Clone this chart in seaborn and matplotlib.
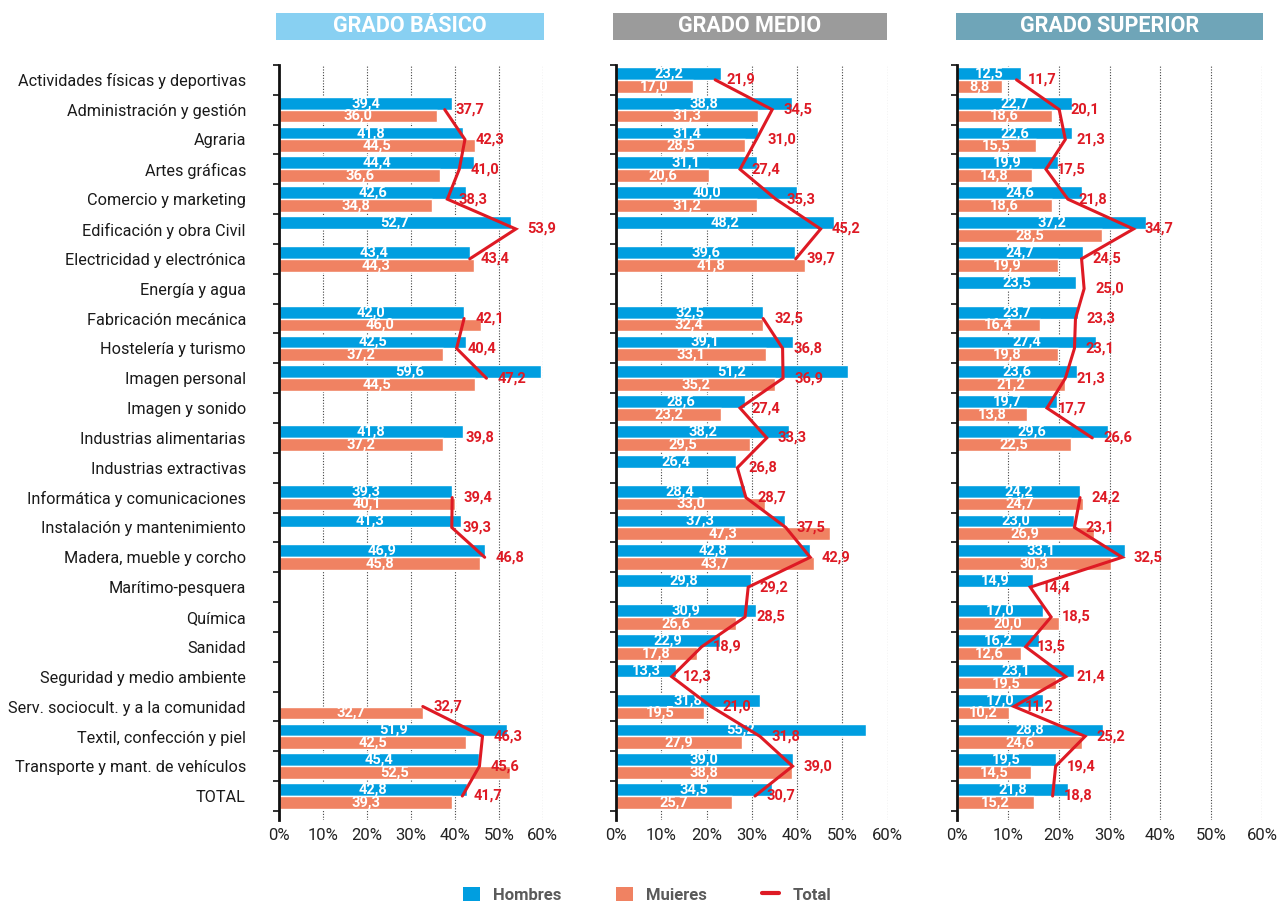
import numpy as np
import pandas as pd
import matplotlib.pyplot as plt
from matplotlib.patches import Rectangle, Patch
from matplotlib.lines import Line2D
import seaborn as sns

nan = np.nan

familias = [
    "Actividades físicas y deportivas", "Administración y gestión", "Agraria",
    "Artes gráficas", "Comercio y marketing", "Edificación y obra Civil",
    "Electricidad y electrónica", "Energía y agua", "Fabricación mecánica",
    "Hostelería y turismo", "Imagen personal", "Imagen y sonido",
    "Industrias alimentarias", "Industrias extractivas",
    "Informática y comunicaciones", "Instalación y mantenimiento",
    "Madera, mueble y corcho", "Marítimo-pesquera", "Química", "Sanidad",
    "Seguridad y medio ambiente", "Serv. sociocult. y a la comunidad",
    "Textil, confección y piel", "Transporte y mant. de vehículos", "TOTAL",
]

basico_hombres = [nan, 39.4, 41.8, 44.4, 42.6, 52.7, 43.4, nan, 42.0, 42.5, 59.6, nan, 41.8,
                  nan, 39.3, 41.3, 46.9, nan, nan, nan, nan, nan, 51.9, 45.4, 42.8]
basico_mujeres = [nan, 36.0, 44.5, 36.6, 34.8, nan, 44.3, nan, 46.0, 37.2, 44.5, nan, 37.2,
                  nan, 40.1, nan, 45.8, nan, nan, nan, nan, 32.7, 42.5, 52.5, 39.3]
basico_total = [nan, 37.7, 42.3, 41.0, 38.3, 53.9, 43.4, nan, 42.1, 40.4, 47.2, nan, 39.8,
                nan, 39.4, 39.3, 46.8, nan, nan, nan, nan, 32.7, 46.3, 45.6, 41.7]

medio_hombres = [23.2, 38.8, 31.4, 31.1, 40.0, 48.2, 39.6, nan, 32.5, 39.1, 51.2, 28.6, 38.2,
                 26.4, 28.4, 37.3, 42.8, 29.8, 30.9, 22.9, 13.3, 31.8, 55.2, 39.0, 34.5]
medio_mujeres = [17.0, 31.3, 28.5, 20.6, 31.2, nan, 41.8, nan, 32.4, 33.1, 35.2, 23.2, 29.5,
                 nan, 33.0, 47.3, 43.7, nan, 26.6, 17.8, nan, 19.5, 27.9, 38.8, 25.7]
medio_total = [21.9, 34.5, 31.0, 27.4, 35.3, 45.2, 39.7, nan, 32.5, 36.8, 36.9, 27.4, 33.3,
               26.8, 28.7, 37.5, 42.9, 29.2, 28.5, 18.9, 12.3, 21.0, 31.8, 39.0, 30.7]

superior_hombres = [12.5, 22.7, 22.6, 19.9, 24.6, 37.2, 24.7, 23.5, 23.7, 27.4, 23.6, 19.7, 29.6,
                    nan, 24.2, 23.0, 33.1, 14.9, 17.0, 16.2, 23.1, 17.0, 28.8, 19.5, 21.8]
superior_mujeres = [8.8, 18.6, 15.5, 14.8, 18.6, 28.5, 19.9, nan, 16.4, 19.8, 21.2, 13.8, 22.5,
                    nan, 24.7, 26.9, 30.3, nan, 20.0, 12.6, 19.5, 10.2, 24.6, 14.5, 15.2]
superior_total = [11.7, 20.1, 21.3, 17.5, 21.8, 34.7, 24.5, 25.0, 23.3, 23.1, 21.3, 17.7, 26.6,
                  nan, 24.2, 23.1, 32.5, 14.4, 18.5, 13.5, 21.4, 11.2, 25.2, 19.4, 18.8]

grados = ["GRADO BÁSICO", "GRADO MEDIO", "GRADO SUPERIOR"]
sexos = ["Hombres", "Muieres"]
xticks = [0, 10, 20, 30, 40, 50, 60]

C_H = "#009ee0"
C_M = "#f08262"
C_T = "#de1a24"
header_colors = ["#88d0f2", "#9b9b9b", "#6fa5b8"]

sns.set_theme(style="white")
plt.rcParams['font.family'] = ['Roboto', 'DejaVu Sans']

def fmt(v):
    return f"{v:.1f}".replace(".", ",")

fig = plt.figure(figsize=(12.81, 9.01), dpi=100)

# axes positions in figure fraction (left, width), headers (left, right)
ax_pos = [(0.2180, 0.2056), (0.4809, 0.2120), (0.7471, 0.2381)]
head_pos = [(0.2155, 0.4247), (0.4785, 0.6924), (0.7463, 0.9859)]
y0, y1 = 0.090, 0.928

panels = [
    (basico_hombres, basico_mujeres, basico_total),
    (medio_hombres, medio_mujeres, medio_total),
    (superior_hombres, superior_mujeres, superior_total),
]

n = len(familias)
for i, (hom, muj, tot) in enumerate(panels):
    left, width = ax_pos[i]
    ax = fig.add_axes([left, y0, width, y1 - y0])
    df = pd.DataFrame({
        "familia": familias * 2,
        "sexo": ["Hombres"] * n + ["Muieres"] * n,
        "pct": list(hom) + list(muj),
    })
    sns.barplot(data=df, y="familia", x="pct", hue="sexo", order=familias,
                hue_order=sexos, palette=[C_H, C_M], orient="h", width=0.86,
                errorbar=None, saturation=1, legend=False, ax=ax)
    for c in ax.containers:
        ax.bar_label(c, labels=[fmt(v) for v in c.datavalues], label_type="center",
                     color="white", fontsize=10.5, fontweight="bold")

    # total line (gaps where there is no data)
    ypos = np.arange(n)
    ax.plot(tot, ypos, color=C_T, lw=2.2, solid_joinstyle="miter", zorder=5)
    for y, v in zip(ypos, tot):
        if not np.isnan(v):
            ax.annotate(fmt(v), (v, y), xytext=(8, 0), textcoords="offset points",
                        ha="left", va="center", color=C_T, fontsize=10.5,
                        fontweight="bold", zorder=6)

    ax.set_xlim(0, 60)
    ax.set_ylim(n - 0.5 + 0.3, -0.5)
    ax.set_xticks(xticks)
    ax.set_xticklabels([f"{t}%" for t in xticks], fontsize=12, color="#222222")
    ax.tick_params(axis="x", length=0, pad=6)
    ax.set_xlabel("")
    ax.set_ylabel("")
    ax.set_yticks(ypos)
    if i == 0:
        ax.set_yticklabels(familias, fontsize=11.7, color="#1a1a1a")
    else:
        ax.set_yticklabels([])
    ax.tick_params(axis="y", which="major", length=0, pad=24)
    ax.set_yticks(np.arange(n + 1) - 0.5, minor=True)
    ax.tick_params(axis="y", which="minor", length=4, width=1.3, color="#222222",
                   direction="out", left=True)
    ax.xaxis.grid(True, linestyle=(0, (1, 1.5)), color="#444444", lw=0.8)
    ax.yaxis.grid(False)
    ax.set_axisbelow(True)
    for s in ["top", "right", "bottom"]:
        ax.spines[s].set_visible(False)
    ax.spines["left"].set_color("#111111")
    ax.spines["left"].set_linewidth(2)
    ax.spines["left"].set_zorder(7)

    hl, hr = head_pos[i]
    fig.add_artist(Rectangle((hl, 0.9556), hr - hl, 0.030, transform=fig.transFigure,
                             facecolor=header_colors[i], edgecolor="none"))
    fig.text((hl + hr) / 2, 0.9706, grados[i], ha="center", va="center", color="white",
             fontsize=15.5, fontweight="bold")

handles = [Patch(facecolor=C_H, edgecolor="none"), Patch(facecolor=C_M, edgecolor="none"),
           Line2D([0], [0], color=C_T, lw=3)]
leg = fig.legend(handles, ["Hombres", "Muieres", "Total"], loc="center",
                 bbox_to_anchor=(0.505, 0.007), ncol=3, frameon=False,
                 handlelength=1.0, handleheight=1.0, columnspacing=3.3,
                 prop={"weight": "bold", "size": 12})
for t in leg.get_texts():
    t.set_color("#5a5a5a")

plt.savefig("out.png", dpi=100)
